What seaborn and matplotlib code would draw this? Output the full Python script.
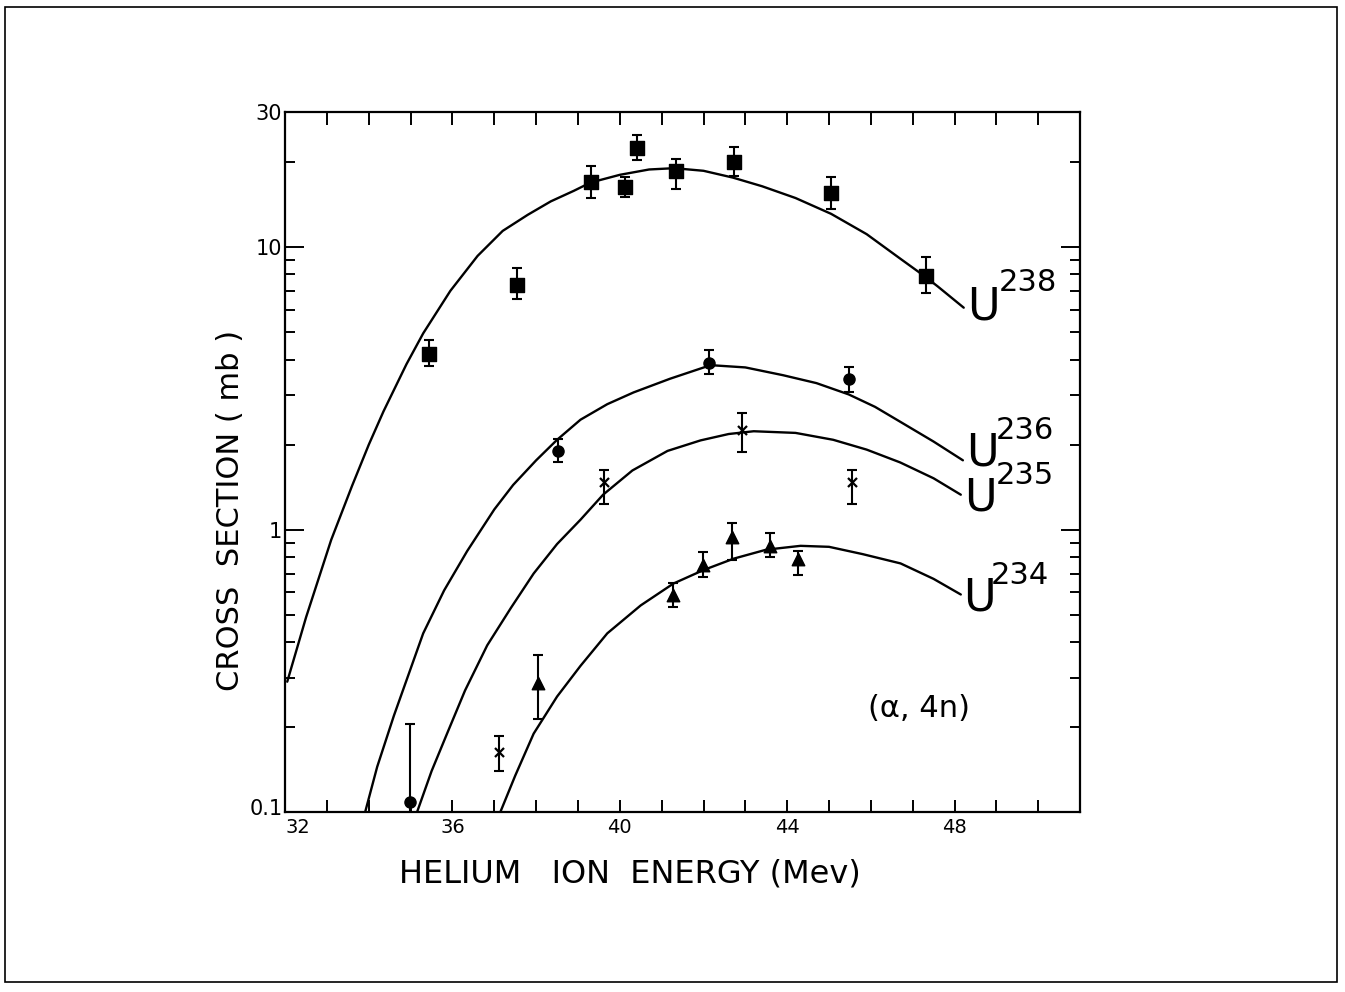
import numpy as np
import pandas as pd
import matplotlib
matplotlib.use("Agg")
import matplotlib.pyplot as plt
import matplotlib.ticker as mticker
from matplotlib.patches import Rectangle
from matplotlib.transforms import ScaledTranslation
import seaborn as sns

# --- data ---
# measured points: energy (MeV), cross section (mb), error bar low / high
e238 = [35.44, 37.55, 39.32, 40.13, 40.42, 41.35, 42.72, 45.04, 47.33]
s238 = [4.17, 7.33, 17.0, 16.3, 22.4, 18.5, 19.9, 15.5, 7.9]
lo238 = [3.78, 6.54, 14.9, 15.0, 20.3, 16.1, 17.9, 13.6, 6.9]
hi238 = [4.68, 8.43, 19.4, 17.7, 24.8, 20.5, 22.6, 17.7, 9.2]

e236 = [34.99, 38.53, 42.14, 45.47]
s236 = [0.109, 1.90, 3.88, 3.40]
lo236 = [0.05, 1.73, 3.55, 3.06]
hi236 = [0.205, 2.10, 4.31, 3.75]

e235 = [37.12, 39.63, 42.93, 45.54]
s235 = [0.164, 1.47, 2.26, 1.47]
lo235 = [0.140, 1.23, 1.89, 1.23]
hi235 = [0.186, 1.63, 2.58, 1.63]

e234 = [38.05, 41.26, 41.98, 42.69, 43.58, 44.25]
s234 = [0.287, 0.588, 0.751, 0.944, 0.878, 0.789]
lo234 = [0.214, 0.533, 0.681, 0.783, 0.802, 0.692]
hi234 = [0.360, 0.649, 0.836, 1.06, 0.976, 0.842]

# drawn excitation curves
c238_x = [32.05, 32.5, 33.1, 33.6, 34.0, 34.35, 34.9, 35.3, 35.95, 36.6, 37.2, 37.8,
          38.35, 38.9, 39.3, 40.0, 40.7, 41.3, 42.0, 42.7, 43.4, 44.2, 45.05, 45.9,
          46.7, 47.3, 47.6, 48.22]
c238_y = [0.29, 0.49, 0.92, 1.43, 2.0, 2.62, 3.85, 4.95, 7.0, 9.3, 11.4, 13.0,
          14.5, 15.8, 16.9, 18.0, 18.8, 19.0, 18.6, 17.6, 16.4, 14.9, 13.1, 11.1,
          9.1, 7.85, 7.25, 6.1]

c236_x = [33.91, 34.2, 34.6, 35.3, 35.8, 36.35, 37.0, 37.45, 38.0, 38.5, 39.06, 39.7,
          40.33, 41.2, 42.17, 43.0, 43.9, 44.7, 45.47, 46.1, 46.7, 47.5, 48.2]
c236_y = [0.1, 0.145, 0.22, 0.43, 0.61, 0.84, 1.18, 1.44, 1.76, 2.08, 2.45, 2.78,
          3.06, 3.42, 3.82, 3.75, 3.52, 3.3, 3.01, 2.72, 2.41, 2.05, 1.76]

c235_x = [35.15, 35.5, 35.87, 36.3, 36.83, 37.4, 37.94, 38.5, 39.06, 39.6, 40.3, 41.14,
          41.93, 42.6, 43.2, 44.2, 45.1, 45.9, 46.7, 47.5, 48.15]
c235_y = [0.1, 0.14, 0.19, 0.27, 0.39, 0.53, 0.70, 0.89, 1.085, 1.33, 1.62, 1.90,
          2.07, 2.18, 2.23, 2.2, 2.08, 1.92, 1.73, 1.52, 1.33]

c234_x = [37.14, 37.5, 37.94, 38.5, 39.06, 39.7, 40.5, 41.28, 42.0, 42.72, 43.5, 44.32,
          45.0, 45.8, 46.71, 47.5, 48.15]
c234_y = [0.1, 0.135, 0.19, 0.257, 0.33, 0.43, 0.54, 0.645, 0.72, 0.79, 0.85, 0.877,
          0.87, 0.82, 0.76, 0.67, 0.59]

isotopes = ["238", "236", "235", "234"]
x_ticks = list(range(32, 52))
x_labels = [str(v) if v % 4 == 0 and v < 50 else "" for v in x_ticks]
y_ticks = [0.1, 1, 10, 30]
y_labels = ["0.1", "1", "10", "30"]

sns.set_style("ticks")
plt.rcParams["font.family"] = ["DejaVu Sans"]
plt.rcParams["text.color"] = "black"
plt.rcParams["axes.labelcolor"] = "black"
plt.rcParams["xtick.color"] = "black"
plt.rcParams["ytick.color"] = "black"

fig = plt.figure(figsize=(13.45, 9.92), dpi=100)
ax = fig.add_axes([0.212, 0.181, 0.591, 0.706])

curves = pd.concat([
    pd.DataFrame({"E": c238_x, "sigma": c238_y, "iso": "238"}),
    pd.DataFrame({"E": c236_x, "sigma": c236_y, "iso": "236"}),
    pd.DataFrame({"E": c235_x, "sigma": c235_y, "iso": "235"}),
    pd.DataFrame({"E": c234_x, "sigma": c234_y, "iso": "234"}),
])
for iso in isotopes:
    sub = curves[curves["iso"] == iso]
    sns.lineplot(data=sub, x="E", y="sigma", ax=ax, color="black", lw=1.7,
                 sort=False, estimator=None, legend=False)

points = [
    (e238, s238, lo238, hi238, "s", 10, 1.0),
    (e236, s236, lo236, hi236, "o", 8, 1.0),
    (e235, s235, lo235, hi235, "x", 6.5, 1.6),
    (e234, s234, lo234, hi234, "^", 9, 1.0),
]
for ex, sy, lo, hi, mk, ms, mew in points:
    sy = np.array(sy)
    yerr = [sy - np.array(lo), np.array(hi) - sy]
    ax.errorbar(ex, sy, yerr=yerr, fmt="none", ecolor="black", elinewidth=1.5,
                capsize=3.8, capthick=1.5)
    sns.scatterplot(x=ex, y=sy, ax=ax, marker=mk, s=ms ** 2, color="black",
                    edgecolor="black", linewidth=mew, zorder=5, legend=False)

ax.set_yscale("log")
ax.set_xlim(32, 51)
ax.set_ylim(0.1, 30)

ax.set_xticks(x_ticks)
ax.set_xticklabels(x_labels)
ax.set_yticks(y_ticks)
ax.set_yticklabels(y_labels)
ax.yaxis.set_minor_locator(mticker.LogLocator(base=10, subs=np.arange(2, 10)))
ax.yaxis.set_minor_formatter(mticker.NullFormatter())

ax.tick_params(axis="x", which="major", direction="in", length=9, width=1.4,
               top=True, bottom=True, labelsize=14, pad=4)
ax.tick_params(axis="y", which="major", direction="in", length=14, width=1.4,
               left=True, right=True, labelsize=15, pad=2)
ax.tick_params(axis="y", which="minor", direction="in", length=7, width=1.4,
               left=True, right=True)
for sp in ax.spines.values():
    sp.set_visible(True)
    sp.set_linewidth(1.6)
    sp.set_color("black")

# nudge the two corner labels apart, as in the original
ax.get_xticklabels()[0].set_ha("left")
lab01 = ax.get_yticklabels()[0]
lab01.set_transform(lab01.get_transform() + ScaledTranslation(0, 4 / 72, fig.dpi_scale_trans))

ax.set_xlabel("HELIUM   ION  ENERGY (Mev)", fontsize=23)
ax.xaxis.set_label_coords(0.434, -0.066)
ax.set_ylabel("CROSS  SECTION ( mb )", fontsize=22)
ax.yaxis.set_label_coords(-0.050, 0.431)

# curve labels
label_pos = {"238": (48.29, 6.13, 49.06, 7.5),
             "236": (48.27, 1.87, 48.99, 2.24),
             "235": (48.22, 1.30, 48.99, 1.55),
             "234": (48.20, 0.574, 48.87, 0.69)}
for iso in isotopes:
    ux, uy, sx, sy_ = label_pos[iso]
    ax.text(ux, uy, "U", fontsize=32, ha="left", va="center")
    ax.text(sx, sy_, iso, fontsize=22, ha="left", va="center")

ax.text(47.14, 0.234, "(α, 4n)", fontsize=22, ha="center", va="center")

fig.patches.append(Rectangle((0.004, 0.01), 0.99, 0.983, transform=fig.transFigure,
                             fill=False, lw=1.2, color="black"))

fig.savefig("out.png", dpi=100)
